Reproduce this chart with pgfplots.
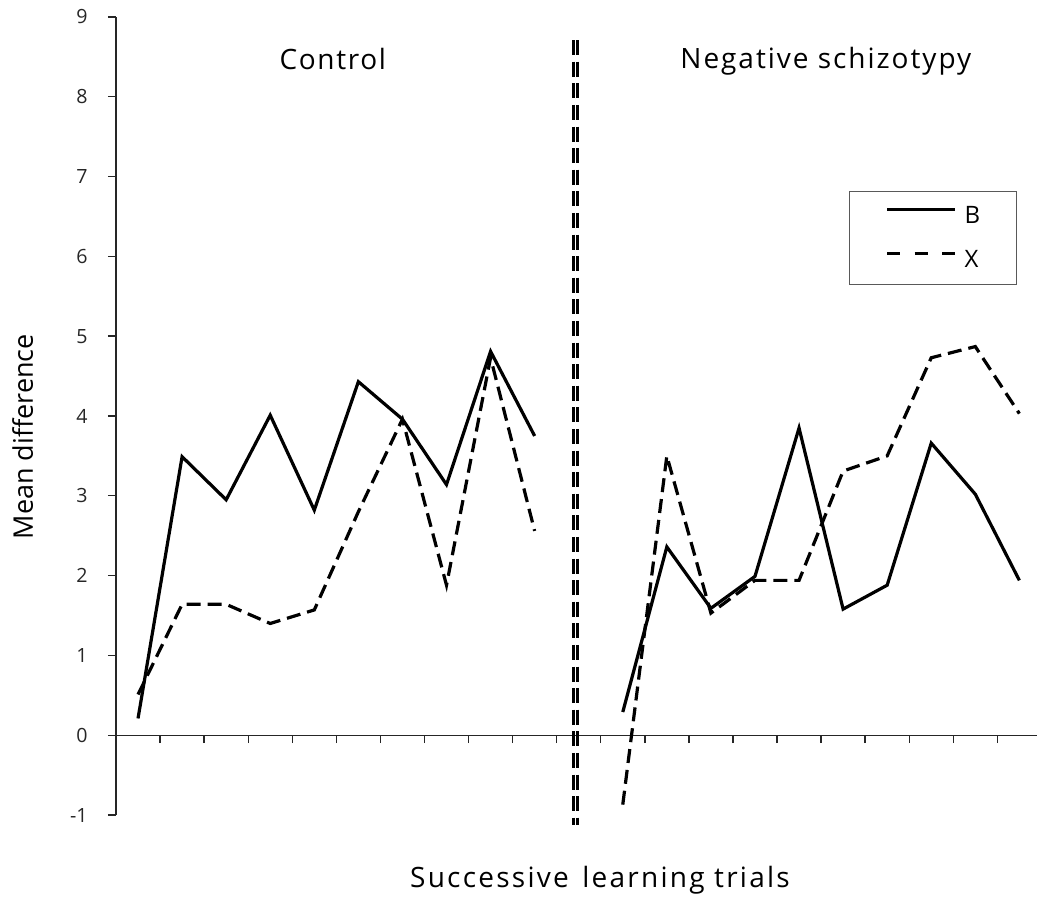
\documentclass[border=0pt]{standalone}
\usepackage{fontspec}
\setmainfont{Open Sans}
\usepackage{pgfplots}
\usepackage{pgfplotstable}
\pgfplotsset{compat=1.18}

\pgfplotstableread{
x y
0 0.21
1 3.49
2 2.95
3 4.01
4 2.82
5 4.43
6 3.96
7 3.14
8 4.81
9 3.75
}\ctrlB
\pgfplotstableread{
x y
0 0.51
1 1.64
2 1.64
3 1.40
4 1.57
5 2.80
6 3.96
7 1.88
8 4.73
9 2.56
}\ctrlX
\pgfplotstableread{
x y
11 0.29
12 2.36
13 1.59
14 1.99
15 3.85
16 1.58
17 1.88
18 3.66
19 3.02
20 1.94
}\negB
\pgfplotstableread{
x y
11 -0.87
12 3.50
13 1.53
14 1.94
15 1.94
16 3.31
17 3.50
18 4.73
19 4.87
20 4.03
}\negX

\begin{document}
\begin{tikzpicture}
\begin{axis}[
  scale only axis, width=460.5pt, height=399pt,
  xmin=-0.5, xmax=20.4, ymin=-1, ymax=9,
  axis x line=middle, axis y line=left,
  axis line style={-, black!85, line width=0.7pt},
  ytick={-1,0,...,9},
  xtick={0.5,1.5,...,19.5}, xticklabels={},
  tick align=outside, major tick length=4pt,
  tick style={black!85, line width=0.7pt},
  hide obscured x ticks=false, hide obscured y ticks=false,
  /pgf/number format/assume math mode=true,
  yticklabel style={font=\fontsize{9.8}{11}\selectfont, text=black!85, inner sep=0pt, xshift=-10pt},
  clip=false,
  legend image code/.code={\draw[#1] (0pt,3.3pt) -- (34pt,3.3pt);},
  legend style={at={(rel axis cs:0.7958,0.7820)}, anchor=north west,
    draw=black!65, line width=0.6pt, font=\fontsize{12}{14}\selectfont,
    inner xsep=18pt, inner ysep=7.3pt, row sep=11.8pt, column sep=4pt,
    nodes={inner sep=0pt}},
  legend cell align=left,
]
\addplot[black, line width=1.6pt] table {\ctrlB};
\addlegendentry{B}
\addplot[black, line width=1.6pt, dash pattern=on 7pt off 3.5pt,
  legend image post style={dash pattern=on 6.5pt off 7.25pt}] table {\ctrlX};
\addlegendentry{X}
\addplot[black, line width=1.6pt, forget plot] table {\negB};
\addplot[black, line width=1.6pt, dash pattern=on 7pt off 3.5pt, forget plot] table {\negX};
\addplot[black, line width=1.8pt, dash pattern=on 7.5pt off 3.3pt, forget plot] coordinates {(9.886,8.71) (9.886,-1.12)};
\addplot[black, line width=1.2pt, dash pattern=on 7.5pt off 3.3pt, forget plot] coordinates {(9.976,8.71) (9.976,-1.12)};

\node[anchor=base, font=\fontsize{14}{16}\selectfont\addfontfeature{LetterSpace=6}] at (rel axis cs:0.2354,0.9336) {Control};
\node[anchor=base, font=\fontsize{14}{16}\selectfont\addfontfeature{LetterSpace=7}] at (rel axis cs:0.7707,0.9357) {Negative schizotypy};
\node[anchor=base, font=\fontsize{14}{16}\selectfont\addfontfeature{LetterSpace=8}] at ([yshift=-36pt]rel axis cs:0.5255,0) {Successive\hspace{2pt} learning trials};
\node[anchor=base, rotate=90, font=\fontsize{13.5}{16}\selectfont] at ([xshift=-41.5pt]rel axis cs:0,0.474) {Mean difference};
\end{axis}
\pgfresetboundingbox
\path[use as bounding box] ([shift={(-58pt,-42.5pt)}]current axis.south west) rectangle ([shift={(0pt,8.5pt)}]current axis.north east);
\end{tikzpicture}
\end{document}
